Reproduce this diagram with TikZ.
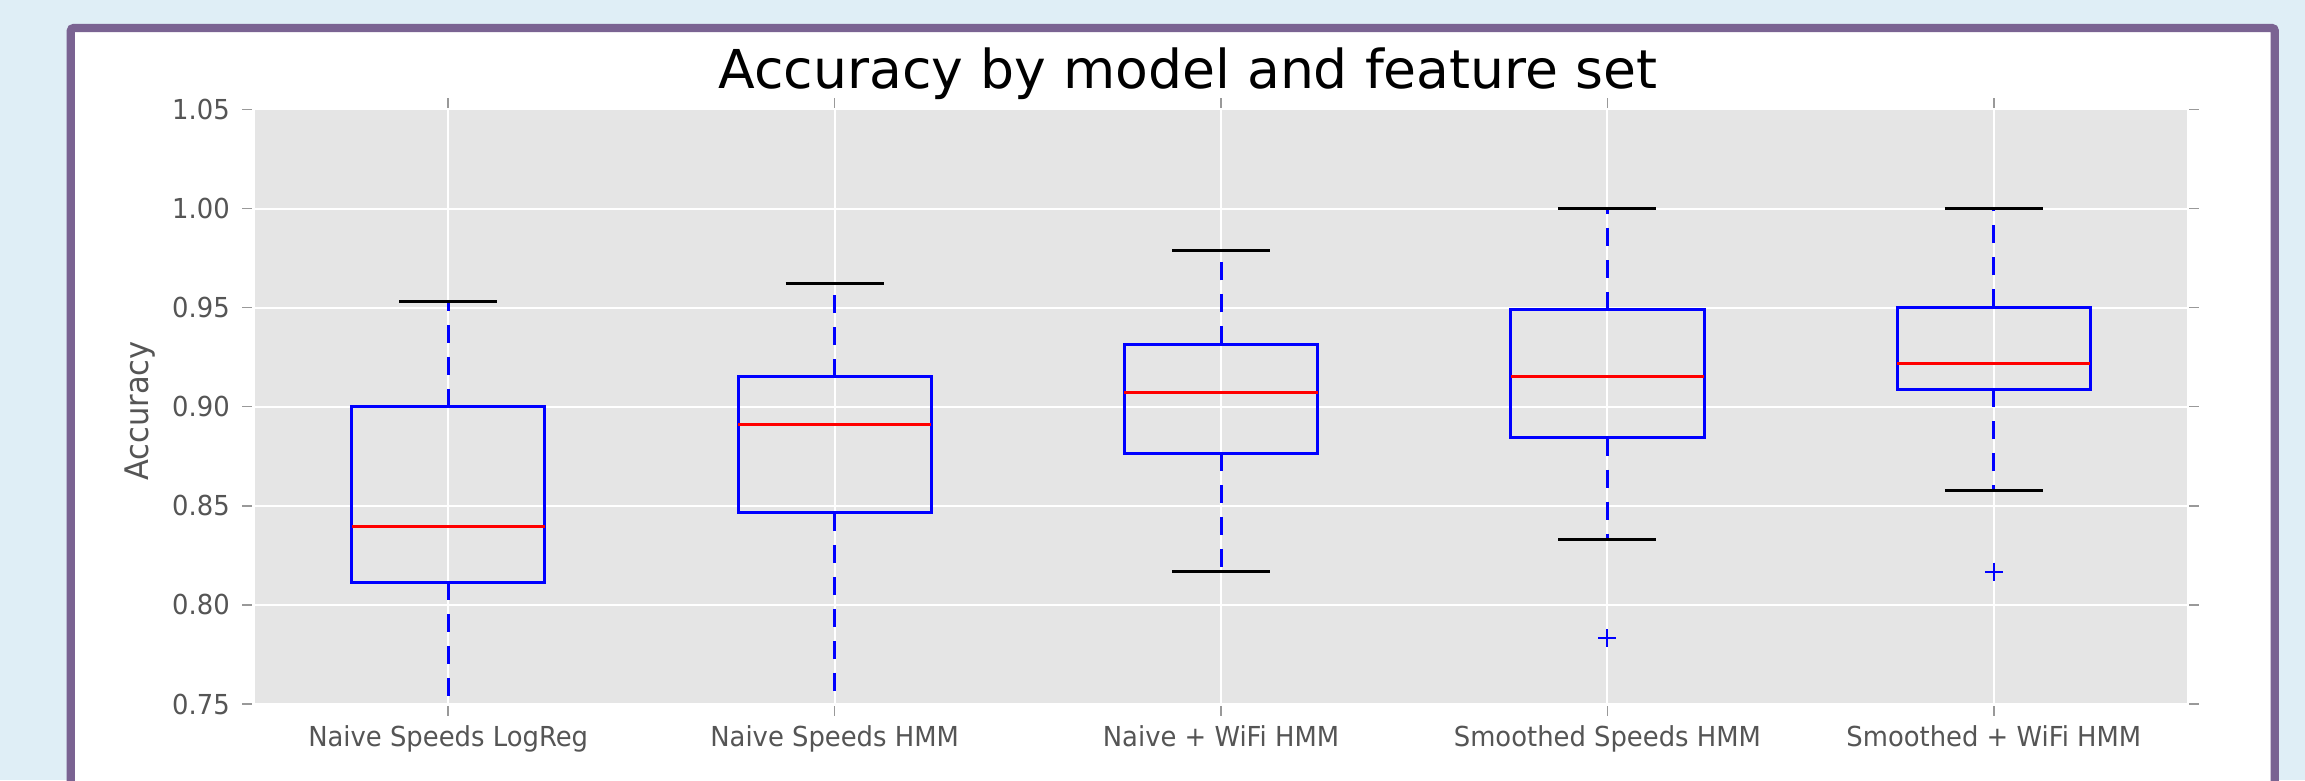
\documentclass[tikz,border=0pt]{standalone}
\usepackage{fontspec}
\newfontfamily\djv[FakeStretch=0.94]{DejaVu Sans}
\newfontfamily\djvt{DejaVu Sans}
\definecolor{pagebg}{HTML}{DFEEF6}
\definecolor{framec}{HTML}{7A6392}
\definecolor{plotbg}{HTML}{E5E5E5}
\definecolor{ticklab}{HTML}{555555}
\definecolor{tickc}{HTML}{999999}
\begin{document}
\begin{tikzpicture}[x=1pt,y=-1pt,
  declare function={vy(\v)=704-(\v-0.75)*1982;},
  boxline/.style={draw=blue,line width=3pt},
  medline/.style={draw=red,line width=3pt},
  capline/.style={draw=black,line width=3pt},
  whisk/.style={draw=blue,line width=3pt,dash pattern=on 18pt off 14pt},
  flier/.style={draw=blue,line width=2pt},
  gridl/.style={draw=white,line width=2pt},
  tickl/.style={draw=tickc,line width=1.5pt},
  ticklabel/.style={text=ticklab,font=\djv\fontsize{27.5}{33}\selectfont,inner sep=0pt},
]
\useasboundingbox (0,0) rectangle (2305,780);
\clip (0,0) rectangle (2305,780);
\fill[pagebg] (0,0) rectangle (2305,780);
% frame
\draw[framec,line width=8.3pt,fill=white,rounded corners=3pt] (70.8,28) rectangle (2274.8,830);
% plot area
\fill[plotbg] (255,109.4) rectangle (2187,704);
% grid lines and ticks
\foreach \v/\lbl in {0.75/0.75,0.80/0.80,0.85/0.85,0.90/0.90,0.95/0.95,1.00/1.00,1.05/1.05}{
  \draw[gridl] (255,{vy(\v)}) -- (2187,{vy(\v)});
  \draw[tickl] (242,{vy(\v)}) -- (252,{vy(\v)});
  \draw[tickl] (2189,{vy(\v)}) -- (2199,{vy(\v)});
  \node[ticklabel,anchor=east] at (230,{vy(\v)}) {\lbl};
}
\foreach \x/\lbl in {448.2/Naive Speeds LogReg,834.6/Naive Speeds HMM,1221/Naive + WiFi HMM,1607.4/Smoothed Speeds HMM,1993.8/Smoothed + WiFi HMM}{
  \draw[gridl] (\x,109.4) -- (\x,704);
  \draw[tickl] (\x,98) -- (\x,108);
  \draw[tickl] (\x,706) -- (\x,716);
  \node[ticklabel,anchor=base] at (\x,746.7) {\lbl};
}
% boxes
\begin{scope}
\clip (255,109.4) rectangle (2187,704);
\foreach \x/\qa/\md/\qc/\hi/\lo in {448.2/0.8114/0.8397/0.9000/0.953/0.70,
  834.6/0.8465/0.8908/0.9150/0.9624/0.70,
  1221/0.8765/0.9071/0.9315/0.9787/0.8168,
  1607.4/0.8844/0.9151/0.9488/1.000/0.8331,
  1993.8/0.9088/0.9219/0.9503/1.000/0.8575}{
  \draw[whisk] (\x,{vy(\qc)}) -- (\x,{vy(\hi)});
  \draw[whisk] (\x,{vy(\qa)}) -- (\x,{vy(\lo)});
  \draw[capline] ({\x-49},{vy(\hi)}) -- ({\x+49},{vy(\hi)});
  \draw[capline] ({\x-49},{vy(\lo)}) -- ({\x+49},{vy(\lo)});
  \draw[boxline] ({\x-96.6},{vy(\qa)}) rectangle ({\x+96.6},{vy(\qc)});
  \draw[medline] ({\x-96.6},{vy(\md)}) -- ({\x+96.6},{vy(\md)});
}
\foreach \x/\v in {1607.4/0.7831,1993.8/0.8168}{
  \draw[flier] ({\x-9},{vy(\v)}) -- ({\x+9},{vy(\v)});
  \draw[flier] (\x,{vy(\v)-9}) -- (\x,{vy(\v)+9});
}
\end{scope}
% title and axis label
\node[anchor=base,inner sep=0pt,font=\djvt\fontsize{53.6}{60}\selectfont] (title) at (1188,88) {Accuracy by model and feature set};
\node[rotate=90,inner sep=0pt,text=ticklab,font=\djv\fontsize{32.5}{38}\selectfont] (ylab) at (140,411) {Accuracy};
\end{tikzpicture}
\end{document}
